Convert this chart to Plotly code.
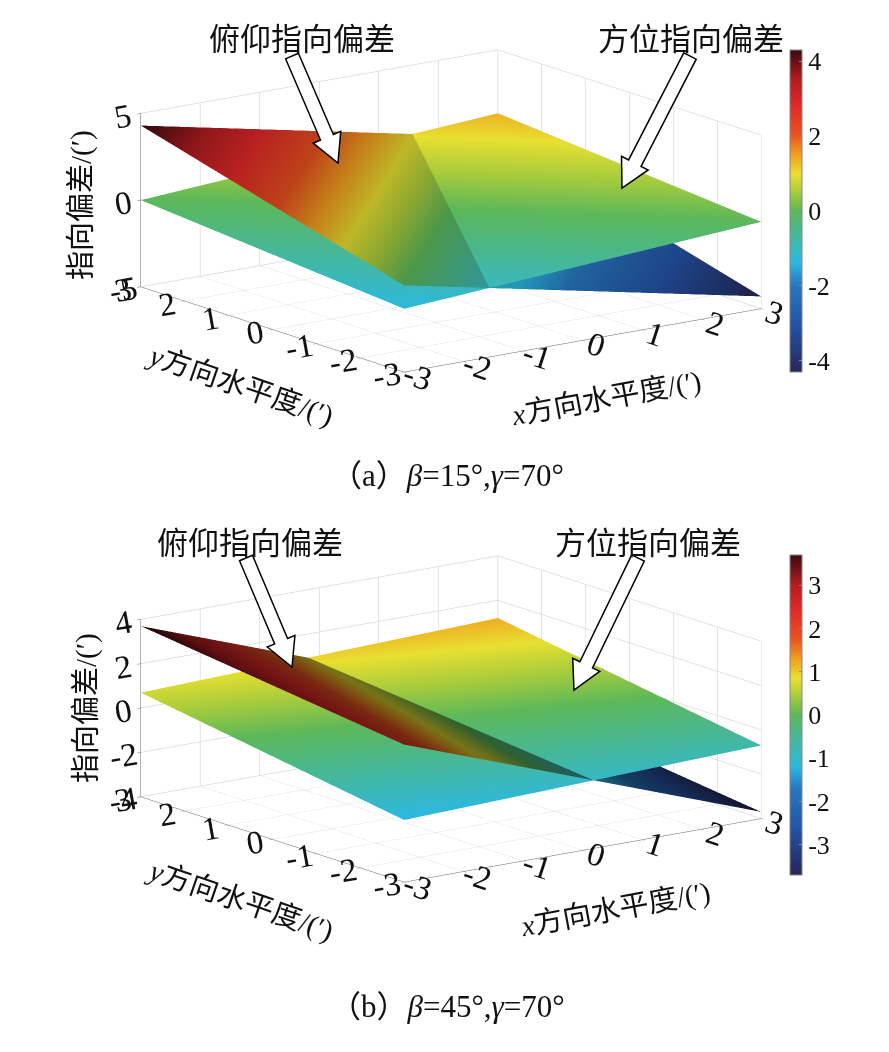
import plotly.graph_objects as go

W, H = 889, 1052
OFF = 8  # page body margin of the browser shot

# grid of the two planes (corner nodes only, planes are flat)
x_vals = [-3, 3]
y_vals = [-3, 3]

# z[row = y][col = x]
pitch_a = [[0.0, -4.3], [4.3, 0.0]]
azim_a = [[-1.35, 0.0], [0.0, 1.35]]
pitch_b = [[2.2, -3.7], [3.7, -2.2]]
azim_b = [[-1.2, -0.7], [0.7, 1.2]]

xy_ticks = [-3, -2, -1, 0, 1, 2, 3]
xy_ticktext = ["-3", "-2", "-1", "0", "1", "2", "3"]
z_ticks_a = [-5, 0, 5]
z_ticktext_a = ["-5", "0", "5"]
z_ticks_b = [-4, -2, 0, 2, 4]
z_ticktext_b = ["-4", "-2", "0", "2", "4"]
cb_ticks_a = [-4, -2, 0, 2, 4]
cb_ticktext_a = ["-4", "-2", "0", "2", "4"]
cb_ticks_b = [-3, -2, -1, 0, 1, 2, 3]
cb_ticktext_b = ["-3", "-2", "-1", "0", "1", "2", "3"]
crange_a = (-4.3, 4.3)
crange_b = (-3.7, 3.7)

label_pitch = "俯仰指向偏差"
label_azim = "方位指向偏差"
caption_a = "（a）<i>β</i>=15°,<i>γ</i>=70°"
caption_b = "（b）<i>β</i>=45°,<i>γ</i>=70°"
xtitle = "<i>x</i>方向水平度/(′)"
ytitle = "<i>y</i>方向水平度/(′)"
ztitle = "指向偏差/(′)"

SERIF = "Liberation Serif, Noto Sans CJK SC"
CJK = "Noto Sans CJK SC"

cmap = [
    [0.0, "#262658"],
    [0.15, "#2454a8"],
    [0.27, "#2878c0"],
    [0.34, "#2cb8e0"],
    [0.42, "#44b8a0"],
    [0.5, "#5cb85a"],
    [0.56, "#a8cc3c"],
    [0.615, "#e8e030"],
    [0.675, "#f0a020"],
    [0.74, "#e85020"],
    [0.83, "#e02828"],
    [0.91, "#b01c20"],
    [1.0, "#3c0a0e"],
]


def light(level):
    # flat shading; level < 1 darkens the dense-mesh pitch planes
    return dict(ambient=level, diffuse=0, specular=0, roughness=1, fresnel=0)


fig = go.Figure()
for z, scene, cax, lv in [
    (pitch_a, "scene", "coloraxis", 0.82),
    (azim_a, "scene", "coloraxis", 1.0),
    (pitch_b, "scene2", "coloraxis2", 0.52),
    (azim_b, "scene2", "coloraxis2", 1.0),
]:
    fig.add_trace(go.Surface(
        x=x_vals, y=y_vals, z=z, scene=scene, coloraxis=cax,
        lighting=light(lv), hoverinfo="skip",
    ))


def axis(ticks, text, rng):
    return dict(
        title=dict(text=""),
        range=rng, tickmode="array", tickvals=ticks, ticktext=text,
        tickfont=dict(family=SERIF, size=20, color="#111"),
        showgrid=True, gridcolor="#c9c9c9", gridwidth=1,
        showline=True, linecolor="#666", linewidth=1,
        ticks="outside", ticklen=4, tickcolor="#666",
        showbackground=False, zeroline=False, showspikes=False,
    )


eye = dict(x=-0.578 * 2, y=-0.780 * 2, z=0.240 * 2)
cam = dict(eye=eye, up=dict(x=0, y=0, z=1), center=dict(x=0, y=0, z=0),
           projection=dict(type="orthographic"))

fig.update_layout(
    width=W, height=H, autosize=False,
    margin=dict(l=0, r=0, t=0, b=0),
    paper_bgcolor="white",
    showlegend=False,
    scene=dict(
        domain=dict(x=[0.006, 0.991], y=[0.614, 1.0]),
        xaxis=axis(xy_ticks, xy_ticktext, [-3, 3]),
        yaxis=axis(xy_ticks, xy_ticktext, [-3, 3]),
        zaxis=axis(z_ticks_a, z_ticktext_a, [-5, 5]),
        aspectmode="manual", aspectratio=dict(x=2.19, y=2.18, z=0.88),
        camera=cam,
    ),
    scene2=dict(
        domain=dict(x=[0.006, 0.991], y=[0.1307, 0.5167]),
        xaxis=axis(xy_ticks, xy_ticktext, [-3, 3]),
        yaxis=axis(xy_ticks, xy_ticktext, [-3, 3]),
        zaxis=axis(z_ticks_b, z_ticktext_b, [-4, 4]),
        aspectmode="manual", aspectratio=dict(x=2.19, y=2.18, z=0.90),
        camera=cam,
    ),
)


def cbar(ticks, text, ycen, length):
    return dict(
        x=782 / W, xanchor="left", xpad=0, y=1 - ycen / H, yanchor="middle",
        len=length / H, lenmode="fraction", ypad=0, thickness=12,
        tickmode="array", tickvals=ticks, ticktext=text,
        tickfont=dict(family=SERIF, size=26, color="#111"),
        ticks="inside", ticklen=3, tickcolor="#888",
        outlinecolor="#888", outlinewidth=1,
    )


fig.update_layout(
    coloraxis=dict(colorscale=cmap, cmin=crange_a[0], cmax=crange_a[1],
                   colorbar=cbar(cb_ticks_a, cb_ticktext_a, 203, 322)),
    coloraxis2=dict(colorscale=cmap, cmin=crange_b[0], cmax=crange_b[1],
                    colorbar=cbar(cb_ticks_b, cb_ticktext_b, 707, 320)),
)


def px(x, y):
    return (x - OFF) / W, 1 - (y - OFF) / H


# hollow arrows drawn as outlined polygons (pixel coords -> paper)
def arrow(x0, y0, x1, y1, shaft=14, head=30, head_len=28):
    dx, dy = x1 - x0, y1 - y0
    L = (dx * dx + dy * dy) ** 0.5
    ux, uy = dx / L, dy / L
    nx, ny = -uy, ux
    bx, by = x1 - ux * head_len, y1 - uy * head_len
    pts = [
        (x0 + nx * shaft / 2, y0 + ny * shaft / 2),
        (bx + nx * shaft / 2, by + ny * shaft / 2),
        (bx + nx * head / 2, by + ny * head / 2),
        (x1, y1),
        (bx - nx * head / 2, by - ny * head / 2),
        (bx - nx * shaft / 2, by - ny * shaft / 2),
        (x0 - nx * shaft / 2, y0 - ny * shaft / 2),
    ]
    path = "M " + " L ".join("%.5f,%.5f" % px(a, b) for a, b in pts) + " Z"
    fig.add_shape(type="path", path=path, xref="paper", yref="paper",
                  fillcolor="white", line=dict(color="black", width=1.5), layer="above")


arrow(292, 56, 338, 163)
arrow(690, 56, 622, 188)
arrow(246, 558, 292, 667)
arrow(638, 558, 574, 690)


def note(txt, x, y, size, family=CJK, angle=0):
    nx, ny = px(x, y)
    fig.add_annotation(text=txt, x=nx, y=ny, xref="paper", yref="paper",
                       xanchor="center", yanchor="middle",
                       showarrow=False, textangle=angle,
                       font=dict(family=family, size=size, color="#111"))


note(label_pitch, 302, 36, 31)
note(label_azim, 691, 36, 31)
note(label_pitch, 250, 540, 31)
note(label_azim, 648, 540, 31)

# axis titles placed along the box edges
note(ztitle, 82, 205, 29, SERIF, -90)
note(ytitle, 240, 385, 29, SERIF, 19)
note(xtitle, 606, 399, 29, SERIF, -10.5)
note(ztitle, 86, 708, 29, SERIF, -90)
note(ytitle, 240, 900, 29, SERIF, 19)
note(xtitle, 615, 909, 29, SERIF, -10.5)

note(caption_a, 447, 476, 31, SERIF)
note(caption_b, 447, 1006, 31, SERIF)

fig.write_html("out.html")
